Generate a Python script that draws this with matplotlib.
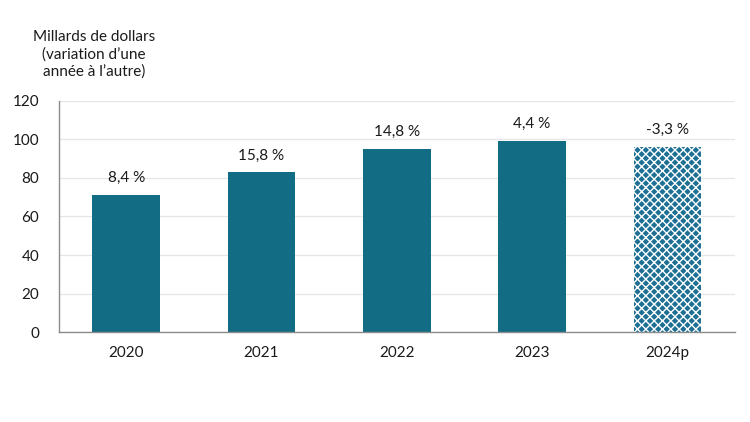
import matplotlib
matplotlib.use("Agg")
import matplotlib.pyplot as plt

years = ["2020", "2021", "2022", "2023", "2024p"]
values = [71.4, 82.9, 95.2, 99.2, 96.2]
labels = ["8,4 %", "15,8 %", "14,8 %", "4,4 %", "-3,3 %"]
projected = [False, False, False, False, True]

TEAL = "#126c84"

plt.rcParams["font.family"] = ["Lato", "DejaVu Sans"]
plt.rcParams["hatch.linewidth"] = 1.0
plt.rcParams["hatch.color"] = "white"

fig = plt.figure(figsize=(7.5, 4.22), dpi=100)
ax = fig.add_axes([0.078, 0.213, 0.902, 0.548])

x = range(len(years))
for i, (v, p) in enumerate(zip(values, projected)):
    if p:
        ax.bar(i, v, width=0.5, color="#1d6f93", hatch="xxxx", edgecolor="white", linewidth=0, zorder=2)
    else:
        ax.bar(i, v, width=0.5, color=TEAL, zorder=2)
    ax.text(i, v + 5, labels[i], ha="center", va="bottom", fontsize=11, color="#1a1a1a")

ax.set_xlim(-0.5, len(years) - 0.5)
ax.set_ylim(0, 120)
ax.set_yticks(range(0, 121, 20))
ax.set_xticks(list(x))
ax.set_xticklabels(years)
ax.tick_params(axis="both", length=0, labelsize=11, colors="#1a1a1a")
ax.tick_params(axis="x", pad=10)
ax.tick_params(axis="y", pad=14)
ax.grid(axis="y", color="#e6e6e6", linewidth=0.9, zorder=0)
ax.set_axisbelow(True)
for side in ["top", "right"]:
    ax.spines[side].set_visible(False)
for side in ["left", "bottom"]:
    ax.spines[side].set_color("#8c8c8c")
    ax.spines[side].set_linewidth(1)

fig.text(0.125, 0.93, "Millards de dollars\n(variation d\u2019une\nannée à l\u2019autre)",
         ha="center", va="top", fontsize=11, color="#1a1a1a", linespacing=1.3)

fig.savefig("out.png", dpi=100)
